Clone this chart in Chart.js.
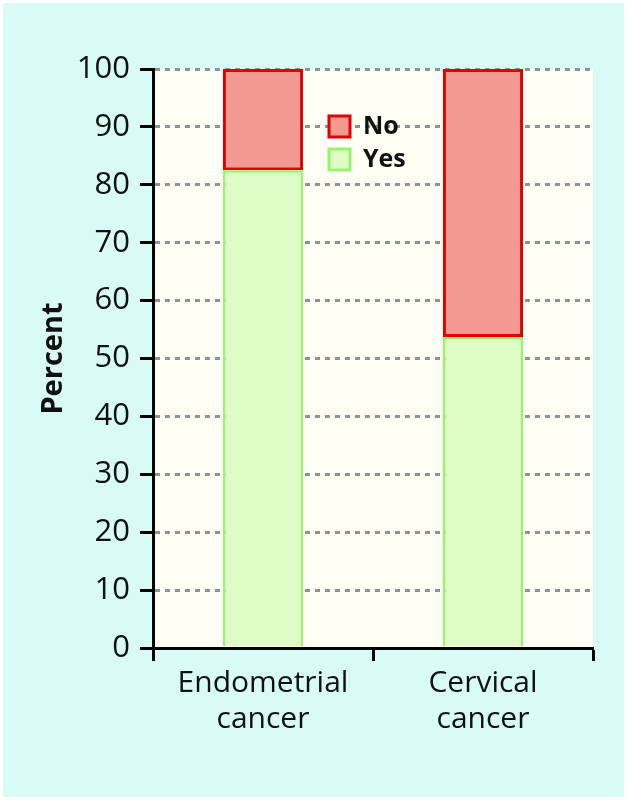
<!DOCTYPE html>
<html>
<head>
<meta charset="utf-8">
<script src="https://cdn.jsdelivr.net/npm/chart.js@4/dist/chart.umd.min.js"></script>
<style>
  html, body { margin: 0; padding: 0; background: #ffffff; }
  #wrap { width: 627px; height: 800px; }
</style>
</head>
<body>
<div id="wrap"><canvas id="chart" width="627" height="800"></canvas></div>
<script>
const categories = [['Endometrial', 'cancer'], ['Cervical', 'cancer']];
const yesValues = [82.5, 53.7];
const noValues = [17.5, 46.3];
const yTicks = [0, 10, 20, 30, 40, 50, 60, 70, 80, 90, 100];

const FONT = "'Open Sans', 'DejaVu Sans', sans-serif";

// page background + cream plot area
const backdrop = {
    id: 'backdrop',
    beforeDraw(chart) {
        const { ctx, chartArea: a, width, height } = chart;
        ctx.save();
        ctx.fillStyle = '#ffffff'; ctx.fillRect(0, 0, width, height);
        ctx.fillStyle = '#d8fbf5'; ctx.fillRect(3, 3, width - 6, height - 6);
        ctx.fillStyle = '#fffff6'; ctx.fillRect(a.left, a.top, a.right - a.left, a.bottom - a.top);
        ctx.restore();
    }
};

// legend drawn inside the plot area
const innerLegend = {
    id: 'innerLegend',
    afterDatasetsDraw(chart) {
        const { ctx, chartArea: a } = chart;
        const sets = chart.data.datasets.slice().reverse();
        ctx.save();
        ctx.font = 'bold 25px ' + FONT;
        ctx.textBaseline = 'middle';
        sets.forEach((ds, i) => {
            const x = a.left + 176, y = a.top + 47 + i * 33;
            ctx.fillStyle = ds.backgroundColor;
            ctx.fillRect(x, y, 21, 21);
            ctx.lineWidth = 3; ctx.strokeStyle = ds.borderColor;
            ctx.strokeRect(x, y, 21, 21);
            ctx.fillStyle = '#111';
            ctx.fillText(ds.label, x + 34, y + 11);
        });
        ctx.restore();
    }
};

new Chart(document.getElementById('chart'), {
    type: 'bar',
    data: {
        labels: categories,
        datasets: [
            {
                label: 'Yes', data: yesValues,
                backgroundColor: '#ddfcc6', borderColor: '#98f46a',
                borderWidth: 2.5, borderSkipped: 'start',
                barPercentage: 0.364, categoryPercentage: 1.0,
            },
            {
                label: 'No', data: noValues,
                backgroundColor: '#f29a91', borderColor: '#e20000',
                borderWidth: 3, borderSkipped: false,
                barPercentage: 0.364, categoryPercentage: 1.0,
            },
        ],
    },
    options: {
        responsive: false,
        animation: false,
        layout: { padding: { top: 69, right: 34, bottom: 0, left: 36 } },
        plugins: {
            legend: { display: false },
            tooltip: { enabled: false },
        },
        scales: {
            x: {
                stacked: true,
                offset: true,
                grid: { offset: true, drawOnChartArea: false, drawTicks: true, tickLength: 13, tickColor: '#000', tickWidth: 3, color: '#000' },
                border: { display: true, color: '#000', width: 3 },
                ticks: { color: '#111', font: { family: FONT, size: 30 }, padding: 4 },
                afterFit: s => { s.height = 152; },
            },
            y: {
                stacked: true,
                min: 0, max: 100,
                afterBuildTicks: s => { s.ticks = yTicks.map(v => ({ value: v })); },
                grid: { color: '#8a9696', lineWidth: 3, tickLength: 13, tickColor: '#000', tickWidth: 3, tickBorderDash: [] },
                border: { display: true, color: '#000', width: 3, dash: [5, 5] },
                ticks: { color: '#111', font: { family: FONT, size: 31 }, padding: 10 },
                title: { display: true, text: 'Percent', color: '#111', font: { family: FONT, size: 29, weight: 'bold' }, padding: { top: 0, bottom: 4 } },
                afterFit: s => { s.width = 153 - 36; },
            },
        },
    },
    plugins: [backdrop, innerLegend],
});
</script>
</body>
</html>
